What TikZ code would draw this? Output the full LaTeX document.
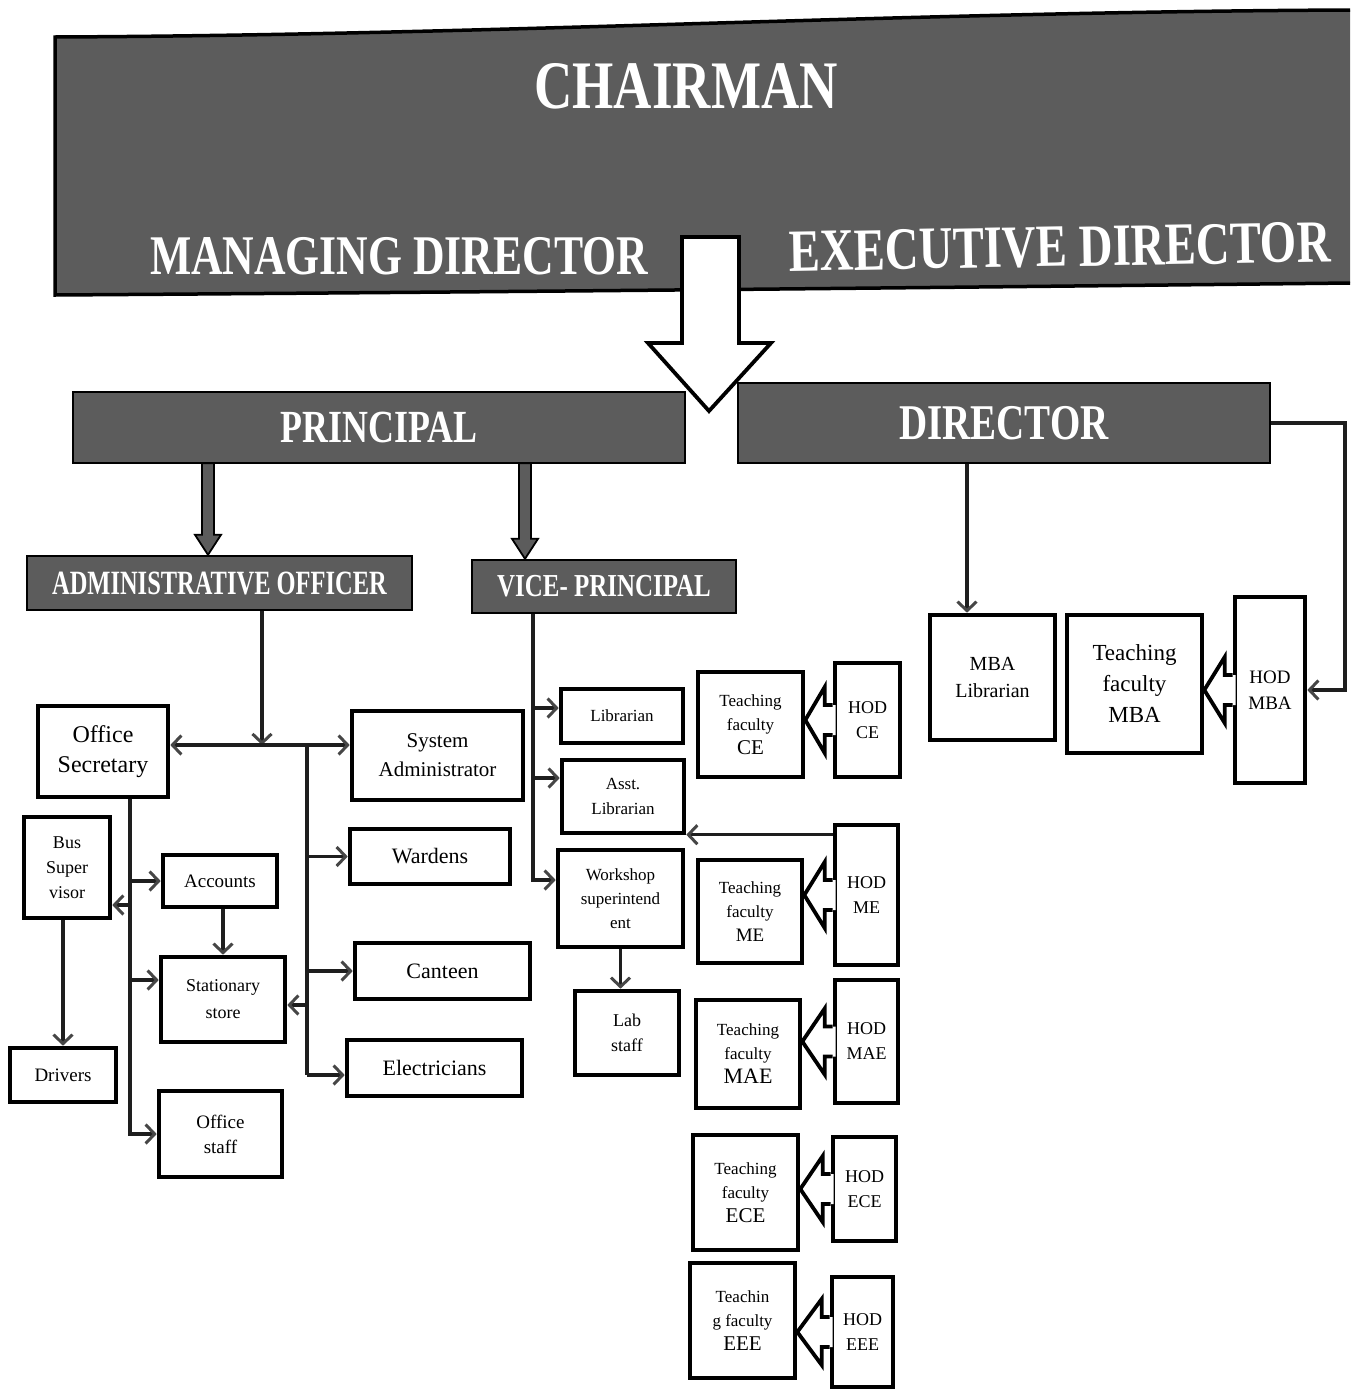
\documentclass[tikz,border=0pt]{standalone}
\usepackage{fontspec}
\setmainfont{Liberation Serif}
\usepackage{graphicx}
\usetikzlibrary{arrows.meta,calc}
\definecolor{bgray}{RGB}{92,92,92}
\definecolor{lgray}{RGB}{30,30,30}
\definecolor{tgray}{RGB}{70,70,70}
\tikzset{
  box/.style={draw=black, line width=4.6pt, fill=white, inner sep=0pt, align=center},
  graybox/.style={draw=black, line width=2.4pt, fill=bgray, inner sep=0pt, text=white, font=\bfseries},
  bannertext/.style={inner sep=0pt, text=white, font=\bfseries},
  conn/.style={draw=lgray, line width=3.4pt},
  tip/.style={-{Straight Barb[length=9pt,width=19pt,line width=3pt,color=tgray]}},
  hollowline/.style={draw=black, line width=3.8pt, line join=miter},
}
\newcommand\fatarrow[2]{%
  \filldraw[fill=bgray, draw=black, line width=1.8pt, line join=miter]
    ([xshift=-6pt,yshift=1pt]#1) -- ([xshift=-6pt,yshift=20pt]#2) -- ([xshift=-13pt,yshift=20pt]#2) -- (#2)
    -- ([xshift=13pt,yshift=20pt]#2) -- ([xshift=6pt,yshift=20pt]#2) -- ([xshift=6pt,yshift=1pt]#1) -- cycle;}
\newcommand\hodarrow[2]{%
  \fill[white] ([xshift=3pt,yshift=15pt]#1.west) -- ([xshift=-8pt,yshift=15pt]#1.west) -- ([xshift=-8pt,yshift=33pt]#1.west)
    -- (#2.east |- #1.west) -- ([xshift=-8pt,yshift=-33pt]#1.west) -- ([xshift=-8pt,yshift=-15pt]#1.west)
    -- ([xshift=3pt,yshift=-15pt]#1.west) -- cycle;
  \draw[hollowline] ([yshift=15pt]#1.west) -- ([xshift=-8pt,yshift=15pt]#1.west) -- ([xshift=-8pt,yshift=33pt]#1.west)
    -- (#2.east |- #1.west) -- ([xshift=-8pt,yshift=-33pt]#1.west) -- ([xshift=-8pt,yshift=-15pt]#1.west)
    -- ([yshift=-15pt]#1.west);}
\begin{document}
\begin{tikzpicture}[x=1pt,y=-1pt]
\useasboundingbox (0,0) rectangle (1350,1390);
\fill[white] (0,0) rectangle (1350,1390);
% ---------- banner ----------
\fill[bgray] (55,37) .. controls (500,35) and (900,12) .. (1350,10) -- (1350,283) .. controls (900,288) and (500,292) .. (55,295) -- cycle;
\draw[black, line width=3.5pt] (1350,283) .. controls (900,288) and (500,292) .. (55,295) -- (55,37) .. controls (500,35) and (900,12) .. (1350,10);
\node[bannertext, font=\bfseries\fontsize{68}{70}\selectfont] (chair) at (686,86) {\scalebox{0.78}[1]{CHAIRMAN}};
\node[bannertext, font=\bfseries\fontsize{56}{58}\selectfont] (md) at (399,256) {\scalebox{0.78}[1]{MANAGING DIRECTOR}};
\node[bannertext, font=\bfseries\fontsize{60}{62}\selectfont, rotate=1] (ed) at (1060,247) {\scalebox{0.78}[1]{EXECUTIVE DIRECTOR}};
% big hollow arrow
\filldraw[fill=white, draw=black, line width=3.8pt, line join=miter]
  (682,237) -- (739,237) -- (739,343) -- (771,343) -- (709,411) -- (648,343) -- (682,343) -- cycle;
% ---------- gray boxes ----------
\node[graybox, minimum width=612pt, minimum height=71pt, font=\bfseries\fontsize{46}{48}\selectfont] (principal) at (379,427.5) {\scalebox{0.78}[1]{PRINCIPAL}};
\node[graybox, minimum width=532pt, minimum height=80pt, font=\bfseries\fontsize{50}{52}\selectfont] (dir) at (1004,423) {\scalebox{0.78}[1]{DIRECTOR}};
\node[graybox, minimum width=385pt, minimum height=54pt, font=\bfseries\fontsize{34}{36}\selectfont] (admin) at (219.5,583) {\scalebox{0.72}[1]{ADMINISTRATIVE OFFICER}};
\node[graybox, minimum width=264pt, minimum height=53pt, font=\bfseries\fontsize{32}{34}\selectfont] (vp) at (604,586.5) {\scalebox{0.78}[1]{VICE- PRINCIPAL}};
% thick arrows
\coordinate (pa) at (208,0);
\coordinate (pb) at (525,0);
\coordinate (pat) at (principal.south -| pa);
\coordinate (pab) at (admin.north -| pa);
\coordinate (pbt) at (principal.south -| pb);
\coordinate (pbb) at (vp.north -| pb);
\fatarrow{pat}{pab}
\fatarrow{pbt}{pbb}
% ---------- admin side boxes ----------
\node[box, minimum width=130pt, minimum height=91pt, font=\fontsize{24}{30}\selectfont] (osec) at (103,751.5) {Office\\Secretary};
\node[box, minimum width=171pt, minimum height=89pt, font=\fontsize{21}{29}\selectfont] (sysadm) at (437.5,755.5) {System\\Administrator};
\node[box, minimum width=160pt, minimum height=55pt, font=\fontsize{22}{26}\selectfont] (wardens) at (430,856.5) {Wardens};
\node[box, minimum width=175pt, minimum height=56pt, font=\fontsize{22}{26}\selectfont] (canteen) at (442.5,971) {Canteen};
\node[box, minimum width=175pt, minimum height=56pt, font=\fontsize{22}{26}\selectfont] (elec) at (434.5,1068) {Electricians};
\node[box, minimum width=86pt, minimum height=101pt, font=\fontsize{18}{25}\selectfont] (bus) at (67,867.5) {Bus\\Super\\visor};
\node[box, minimum width=106pt, minimum height=54pt, font=\fontsize{19}{24}\selectfont] (drivers) at (63,1075) {Drivers};
\node[box, minimum width=114pt, minimum height=52pt, font=\fontsize{19}{24}\selectfont] (acc) at (220,881) {Accounts};
\node[box, minimum width=124pt, minimum height=85pt, font=\fontsize{18}{27}\selectfont] (stat) at (223,999.5) {Stationary\\store};
\node[box, minimum width=123pt, minimum height=86pt, font=\fontsize{19}{25}\selectfont] (ostaff) at (220.5,1134) {Office\\staff};
% ---------- vice principal side ----------
\node[box, minimum width=122pt, minimum height=54pt, font=\fontsize{17}{24}\selectfont] (lib) at (622,716) {Librarian};
\node[box, minimum width=122pt, minimum height=73pt, font=\fontsize{17}{25}\selectfont] (asst) at (623,796.5) {Asst.\\Librarian};
\node[box, minimum width=125pt, minimum height=97pt, font=\fontsize{17}{24}\selectfont] (work) at (620.5,898.5) {Workshop\\superintend\\ent};
\node[box, minimum width=104pt, minimum height=84pt, font=\fontsize{18}{25}\selectfont] (lab) at (627,1033) {Lab\\staff};
% ---------- departments ----------
\node[box, minimum width=105pt, minimum height=105pt, font=\fontsize{17}{24}\selectfont] (tce) at (750.5,724.5) {Teaching\\faculty\\{\fontsize{21}{26}\selectfont CE}};
\node[box, minimum width=65pt, minimum height=114pt, font=\fontsize{18}{25}\selectfont] (hce) at (867.5,720) {HOD\\CE};
\node[box, minimum width=104pt, minimum height=103pt, font=\fontsize{17}{24}\selectfont] (tme) at (750,911.5) {Teaching\\faculty\\{\fontsize{19}{24}\selectfont ME}};
\node[box, minimum width=63pt, minimum height=140pt, font=\fontsize{18}{25}\selectfont] (hme) at (866.5,895) {HOD\\ME};
\node[box, minimum width=104pt, minimum height=108pt, font=\fontsize{17}{24}\selectfont] (tmae) at (748,1054) {Teaching\\faculty\\{\fontsize{22}{27}\selectfont MAE}};
\node[box, minimum width=63pt, minimum height=123pt, font=\fontsize{18}{25}\selectfont] (hmae) at (866.5,1041.5) {HOD\\MAE};
\node[box, minimum width=105pt, minimum height=115pt, font=\fontsize{17}{24}\selectfont] (tece) at (745.5,1192.5) {Teaching\\faculty\\{\fontsize{21}{27}\selectfont ECE}};
\node[box, minimum width=63pt, minimum height=104pt, font=\fontsize{18}{25}\selectfont] (hece) at (864.5,1189) {HOD\\ECE};
\node[box, minimum width=105pt, minimum height=115pt, font=\fontsize{17}{24}\selectfont] (teee) at (742.5,1320.5) {Teachin\\g faculty\\{\fontsize{21}{27}\selectfont EEE}};
\node[box, minimum width=61pt, minimum height=110pt, font=\fontsize{18}{25}\selectfont] (heee) at (862.5,1332) {HOD\\EEE};
% ---------- director side ----------
\node[box, minimum width=125pt, minimum height=125pt, font=\fontsize{20}{27}\selectfont] (mbalib) at (992.5,677.5) {MBA\\Librarian};
\node[box, minimum width=135pt, minimum height=138pt, font=\fontsize{23}{31}\selectfont] (tmba) at (1134.5,684) {Teaching\\faculty\\MBA};
\node[box, minimum width=70pt, minimum height=186pt, font=\fontsize{19}{26}\selectfont] (hmba) at (1270,690) {HOD\\MBA};
% hollow arrows HOD -> teaching
\hodarrow{hce}{tce}
\hodarrow{hme}{tme}
\hodarrow{hmae}{tmae}
\hodarrow{hece}{tece}
\hodarrow{heee}{teee}
\hodarrow{hmba}{tmba}
% ---------- connectors ----------
\coordinate (j1) at (262,745);
\coordinate (j2) at (307,745);
\coordinate (c130) at (130,0);
\coordinate (rBus) at (130,905);
\coordinate (rStat) at (130,980);
\coordinate (rStore) at (307,1005);
\coordinate (rElec) at (307,1075);
\coordinate (vpx) at (533,0);
\coordinate (rLib) at (533,708);
\coordinate (rAsst) at (533,778);
\coordinate (rWork) at (533,880);
\coordinate (dx) at (967,0);
\coordinate (rx) at (1345,0);
\coordinate (hmeout) at ([yshift=-12pt]hme.north west);
\draw[conn,tip] (admin.south -| j1) -- (j1);
\draw[conn,tip] (j1) -- (j1 -| osec.east);
\draw[conn,tip] (j1) -- (j1 -| sysadm.west);
\draw[conn] (j2) -- (rElec);
\draw[conn,tip] (rElec) -- (rElec -| elec.west);
\draw[conn,tip] (j2 |- wardens.west) -- (wardens.west);
\draw[conn,tip] (j2 |- canteen.west) -- (canteen.west);
\draw[conn,tip] (rStore) -- (rStore -| stat.east);
\draw[conn,tip] (osec.south -| c130) -- (c130 |- ostaff.west) -- (ostaff.west);
\draw[conn,tip] (rBus) -- (rBus -| bus.east);
\draw[conn,tip] (c130 |- acc.west) -- (acc.west);
\draw[conn,tip] (rStat) -- (rStat -| stat.west);
\draw[conn,tip] (drivers.north |- bus.south) -- (drivers.north);
\draw[conn,tip] (stat.north |- acc.south) -- (stat.north);
\draw[conn,tip] (vp.south -| vpx) -- (rWork) -- (rWork -| work.west);
\draw[conn,tip] (rLib) -- (rLib -| lib.west);
\draw[conn,tip] (rAsst) -- (rAsst -| asst.west);
\draw[conn,tip] (work.south) -- (work.south |- lab.north);
\draw[conn,tip] (hmeout) -- (hmeout -| asst.east);
\draw[conn,tip] (dir.south -| dx) -- (dx |- mbalib.north);
\draw[conn,tip] (dir.east) -- (dir.east -| rx) -- (rx |- hmba.east) -- (hmba.east);
\end{tikzpicture}
\end{document}
